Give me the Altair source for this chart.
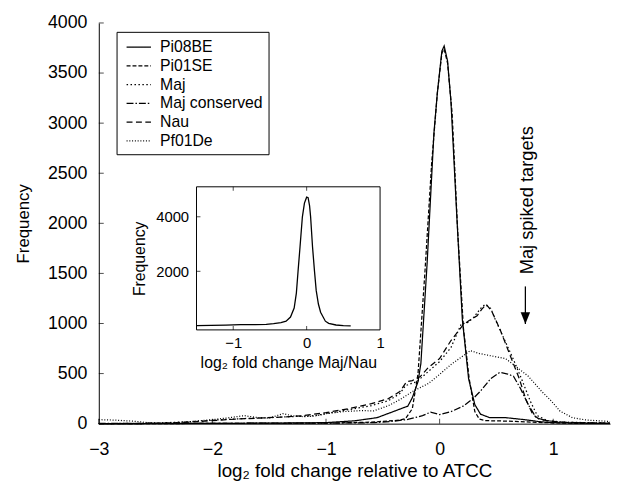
import altair as alt
import pandas as pd

# ---------------- data ----------------
series_names = ["Pi08BE", "Pi01SE", "Maj", "Maj conserved", "Nau", "Pf01De"]

pi08be_x = [-3, -2.5, -2, -1.5, -1.0, -0.75, -0.55, -0.28, -0.24, -0.19, -0.165, -0.11, -0.05, -0.02, 0.02, 0.04, 0.07, 0.1, 0.15, 0.2, 0.23, 0.255, 0.31, 0.36, 0.44, 0.58, 0.73, 0.88, 1.0, 1.2, 1.5]
pi08be_y = [0, 2, 3, 5, 10, 28, 60, 175, 260, 420, 600, 1600, 2900, 3300, 3720, 3770, 3620, 3210, 2100, 1040, 720, 450, 190, 95, 60, 60, 42, 20, 10, 5, 2]

pi01se_x = [-3, -2, -1.5, -1, -0.6, -0.35, -0.3, -0.24, -0.19, -0.13, -0.07, -0.02, 0.02, 0.04, 0.07, 0.11, 0.16, 0.21, 0.26, 0.31, 0.35, 0.4, 0.5, 0.6, 0.8, 1.0, 1.2, 1.5]
pi01se_y = [0, 2, 3, 5, 15, 35, 50, 150, 500, 1500, 2600, 3300, 3700, 3740, 3600, 3100, 1900, 950, 450, 120, 45, 30, 28, 25, 15, 8, 4, 2]

maj_x = [-3, -2.5, -2.2, -2.0, -1.75, -1.5, -1.3, -1.1, -1.0, -0.8, -0.6, -0.45, -0.35, -0.3, -0.2, -0.1, 0.0, 0.1, 0.19, 0.25, 0.3, 0.36, 0.4, 0.45, 0.49, 0.57, 0.65, 0.72, 0.8, 0.86, 0.95, 1.1, 1.5]
maj_y = [0, 5, 20, 35, 50, 60, 70, 80, 100, 140, 180, 230, 300, 380, 420, 520, 620, 760, 995, 1010, 1060, 1150, 1190, 1150, 1040, 840, 640, 450, 220, 80, 30, 15, 5]

majc_x = [-3, -2, -1.5, -1.0, -0.57, -0.4, -0.28, -0.15, -0.08, 0.0, 0.1, 0.21, 0.3, 0.36, 0.45, 0.53, 0.6, 0.65, 0.71, 0.78, 0.85, 0.94, 1.1, 1.3, 1.5]
majc_y = [3, 3, 5, 5, 10, 25, 42, 80, 115, 90, 120, 177, 256, 325, 450, 512, 495, 473, 355, 190, 59, 30, 12, 6, 3]

nau_x = [-3, -2.7, -2.4, -2.2, -2.0, -1.8, -1.6, -1.4, -1.2, -1.0, -0.8, -0.6, -0.45, -0.35, -0.29, -0.24, -0.17, -0.1, 0.0, 0.1, 0.21, 0.26, 0.33, 0.37, 0.41, 0.46, 0.53, 0.62, 0.70, 0.76, 0.82, 0.88, 1.0, 1.2, 1.5]
nau_y = [0, 0, 5, 15, 30, 45, 55, 65, 80, 110, 150, 200, 250, 320, 420, 430, 470, 560, 650, 830, 990, 1030, 1077, 1140, 1192, 1120, 946, 683, 453, 240, 92, 42, 20, 10, 5]

pf01de_x = [-3, -2.85, -2.7, -2.55, -2.4, -2.2, -2.0, -1.85, -1.72, -1.6, -1.5, -1.38, -1.3, -1.2, -1.1, -1.0, -0.85, -0.7, -0.58, -0.45, -0.35, -0.23, -0.1, -0.02, 0.1, 0.21, 0.27, 0.35, 0.44, 0.58, 0.65, 0.78, 0.9, 0.98, 1.06, 1.17, 1.3, 1.46, 1.5]
pf01de_y = [40, 35, 25, 8, 5, 20, 40, 60, 80, 60, 55, 100, 80, 70, 75, 100, 120, 130, 128, 180, 240, 326, 400, 473, 590, 680, 729, 700, 680, 650, 590, 474, 320, 230, 125, 59, 35, 25, 20]

inset_x = [-1.5, -1.3, -1.1, -0.9, -0.7, -0.55, -0.45, -0.35, -0.28, -0.22, -0.17, -0.14, -0.117, -0.09, -0.058, -0.03, 0.0, 0.02, 0.04, 0.054, 0.08, 0.107, 0.13, 0.16, 0.19, 0.255, 0.3, 0.4, 0.5, 0.6]
inset_y = [10, 15, 25, 40, 40, 55, 80, 120, 170, 320, 650, 1200, 2000, 2900, 4000, 4500, 4720, 4700, 4400, 4000, 2900, 2000, 1300, 800, 500, 170, 90, 30, 10, 0]

main_xticks = [-3, -2, -1, 0, 1]
main_yticks = [0, 500, 1000, 1500, 2000, 2500, 3000, 3500, 4000]
inset_xticks = [-1, 0, 1]
inset_xticks_marked = [-1, 0]
inset_yticks = [2000, 4000]

annot_text = ["Maj spiked targets"]
annot_x = [0.77]
annot_y = [2230]
arrow_x = [0.755]
arrow_top = [1370]
arrow_tip = [995]

main_xdomain = [-3, 1.5]
main_ydomain = [0, 4000]
inset_xdomain = [-1.5, 1]
inset_ydomain = [-150, 5100]

# ---------------- tables ----------------
all_x = [pi08be_x, pi01se_x, maj_x, majc_x, nau_x, pf01de_x]
all_y = [pi08be_y, pi01se_y, maj_y, majc_y, nau_y, pf01de_y]
rows = []
for name, xs, ys in zip(series_names, all_x, all_y):
    for i, (xv, yv) in enumerate(zip(xs, ys)):
        rows.append({"series": name, "x": xv, "y": yv, "ord": i})
df = pd.DataFrame(rows)
idf = pd.DataFrame({"x": inset_x, "y": inset_y, "ord": list(range(len(inset_x)))})

dashes = [[1, 0], [4, 2], [1.5, 2.5], [7, 2, 1.5, 2], [6, 3.5], [1, 1.8]]

W, H = 518, 406
FONT = "Liberation Sans"

xsc = alt.Scale(domain=main_xdomain, nice=False, zero=False)
ysc = alt.Scale(domain=main_ydomain, nice=False, zero=False)

MX_AXIS = alt.Axis(values=main_xticks, tickSize=0, grid=False, labelPadding=17, labelFlush=False,
                   labelFontSize=18, titleFontSize=19, titlePadding=4,
                   title="log₂ fold change relative to ATCC")
MY_AXIS = alt.Axis(values=main_yticks, tickSize=0, grid=False, format="d", labelPadding=12,
                   labelFlush=False, labelFontSize=18, titleFontSize=17, titlePadding=15,
                   title="Frequency")

def MX(field=None, datum=None):
    if datum is not None:
        return alt.X(datum=datum, scale=xsc, axis=MX_AXIS)
    return alt.X(field, type="quantitative", scale=xsc, axis=MX_AXIS)

def MY(field=None, datum=None):
    if datum is not None:
        return alt.Y(datum=datum, scale=ysc, axis=MY_AXIS)
    return alt.Y(field, type="quantitative", scale=ysc, axis=MY_AXIS)

lines = alt.Chart(df).mark_line(color="black", strokeWidth=1.25).encode(
    x=MX("x"), y=MY("y"),
    strokeDash=alt.StrokeDash("series:N", sort=series_names,
        scale=alt.Scale(domain=series_names, range=dashes),
        legend=alt.Legend(orient="none", legendX=18, legendY=9, title=None,
                          strokeColor="black", padding=5, symbolType="M -1.3 0 L 1.3 0",
                          symbolSize=361, symbolStrokeWidth=1.2, symbolStrokeColor="black",
                          symbolFillColor="transparent", symbolOffset=7,
                          labelFontSize=16, labelOffset=11, rowPadding=0,
                          labelColor="black")),
    order="ord:Q",
)

tick_df_x = pd.DataFrame({"v": main_xticks})
tick_df_y = pd.DataFrame({"v": main_yticks})
mxt = alt.Chart(tick_df_x).mark_tick(orient="vertical", size=5, yOffset=-2.5, thickness=1, color="black").encode(
    x=MX("v"), y=MY(datum=main_ydomain[0]))
myt = alt.Chart(tick_df_y).mark_tick(orient="horizontal", size=5, xOffset=2.5, thickness=1, color="black").encode(
    y=MY("v"), x=MX(datum=main_xdomain[0]))

arrow_df = pd.DataFrame({"x": arrow_x, "top": arrow_top, "tip": arrow_tip})
arrow_line = alt.Chart(arrow_df).mark_rule(color="black", strokeWidth=1.3).encode(
    x=MX("x"), y=MY("top"), y2="tip:Q")
arrow_head = alt.Chart(arrow_df).mark_point(shape="M -0.4 -1 L 0.4 -1 L 0 0 Z", size=576,
                                            filled=True, color="black", opacity=1).encode(
    x=MX("x"), y=MY("tip"))

annot_df = pd.DataFrame({"t": annot_text, "x": annot_x, "y": annot_y})
annot = alt.Chart(annot_df).mark_text(angle=270, fontSize=18.5, align="center", baseline="middle",
                                      color="black", font=FONT).encode(
    x=MX("x"), y=MY("y"), text="t:N")

main = alt.layer(lines, mxt, myt, arrow_line, arrow_head, annot)

# ---------------- inset ----------------
IX0, IX1 = 99, 285
IY0, IY1 = 311, 166
ixsc = alt.Scale(domain=inset_xdomain, range=[IX0, IX1], nice=False, zero=False)
iysc = alt.Scale(domain=inset_ydomain, range=[IY0, IY1], nice=False, zero=False)

IX_AXIS = alt.Axis(orient="bottom", offset=-(H - IY0), values=inset_xticks, domain=False, ticks=False,
                   grid=False, labelPadding=6, labelFlush=False, labelFontSize=15, titleFontSize=16,
                   titlePadding=4, title="log₂ fold change Maj/Nau")
IY_AXIS = alt.Axis(orient="left", offset=-IX0, values=inset_yticks, domain=False, ticks=False,
                   grid=False, format="d", labelPadding=8, labelFlush=False, labelFontSize=15,
                   titleFontSize=16, titlePadding=8, title="Frequency")

def IX(field=None, datum=None):
    if datum is not None:
        return alt.X(datum=datum, scale=ixsc, axis=IX_AXIS)
    return alt.X(field, type="quantitative", scale=ixsc, axis=IX_AXIS)

def IY(field=None, datum=None):
    if datum is not None:
        return alt.Y(datum=datum, scale=iysc, axis=IY_AXIS)
    return alt.Y(field, type="quantitative", scale=iysc, axis=IY_AXIS)

box_df = pd.DataFrame({"x0": [inset_xdomain[0]], "x1": [inset_xdomain[1]],
                       "y0": [inset_ydomain[0]], "y1": [inset_ydomain[1]]})
ibox = alt.Chart(box_df).mark_rect(fillOpacity=0, stroke="black", strokeWidth=1).encode(
    x=IX("x0"), x2="x1:Q", y=IY("y0"), y2="y1:Q")

iline = alt.Chart(idf).mark_line(color="black", strokeWidth=1.3).encode(
    x=IX("x"), y=IY("y"), order="ord:Q")

ixt_df = pd.DataFrame({"v": inset_xticks_marked})
iyt_df = pd.DataFrame({"v": inset_yticks})
ixt_b = alt.Chart(ixt_df).mark_tick(orient="vertical", size=4, yOffset=-2, thickness=1, color="black").encode(
    x=IX("v"), y=IY(datum=inset_ydomain[0]))
ixt_t = alt.Chart(ixt_df).mark_tick(orient="vertical", size=4, yOffset=2, thickness=1, color="black").encode(
    x=IX("v"), y=IY(datum=inset_ydomain[1]))
iyt = alt.Chart(iyt_df).mark_tick(orient="horizontal", size=4, xOffset=2, thickness=1, color="black").encode(
    y=IY("v"), x=IX(datum=inset_xdomain[0]))

inset = alt.layer(ibox, iline, ixt_b, ixt_t, iyt)

chart = alt.layer(main, inset).resolve_scale(x="independent", y="independent").properties(
    width=W, height=H, autosize="none",
    padding={"left": 92, "top": 12, "right": 2, "bottom": 60},
).configure_view(stroke=None).configure_axis(
    labelFont=FONT, titleFont=FONT, labelColor="black", titleColor="black",
    domainColor="black", titleFontWeight="normal", domainWidth=1,
).configure_legend(labelFont=FONT).configure_text(font=FONT)

chart.save("out.html", embed_options={"renderer": "svg", "actions": False})
